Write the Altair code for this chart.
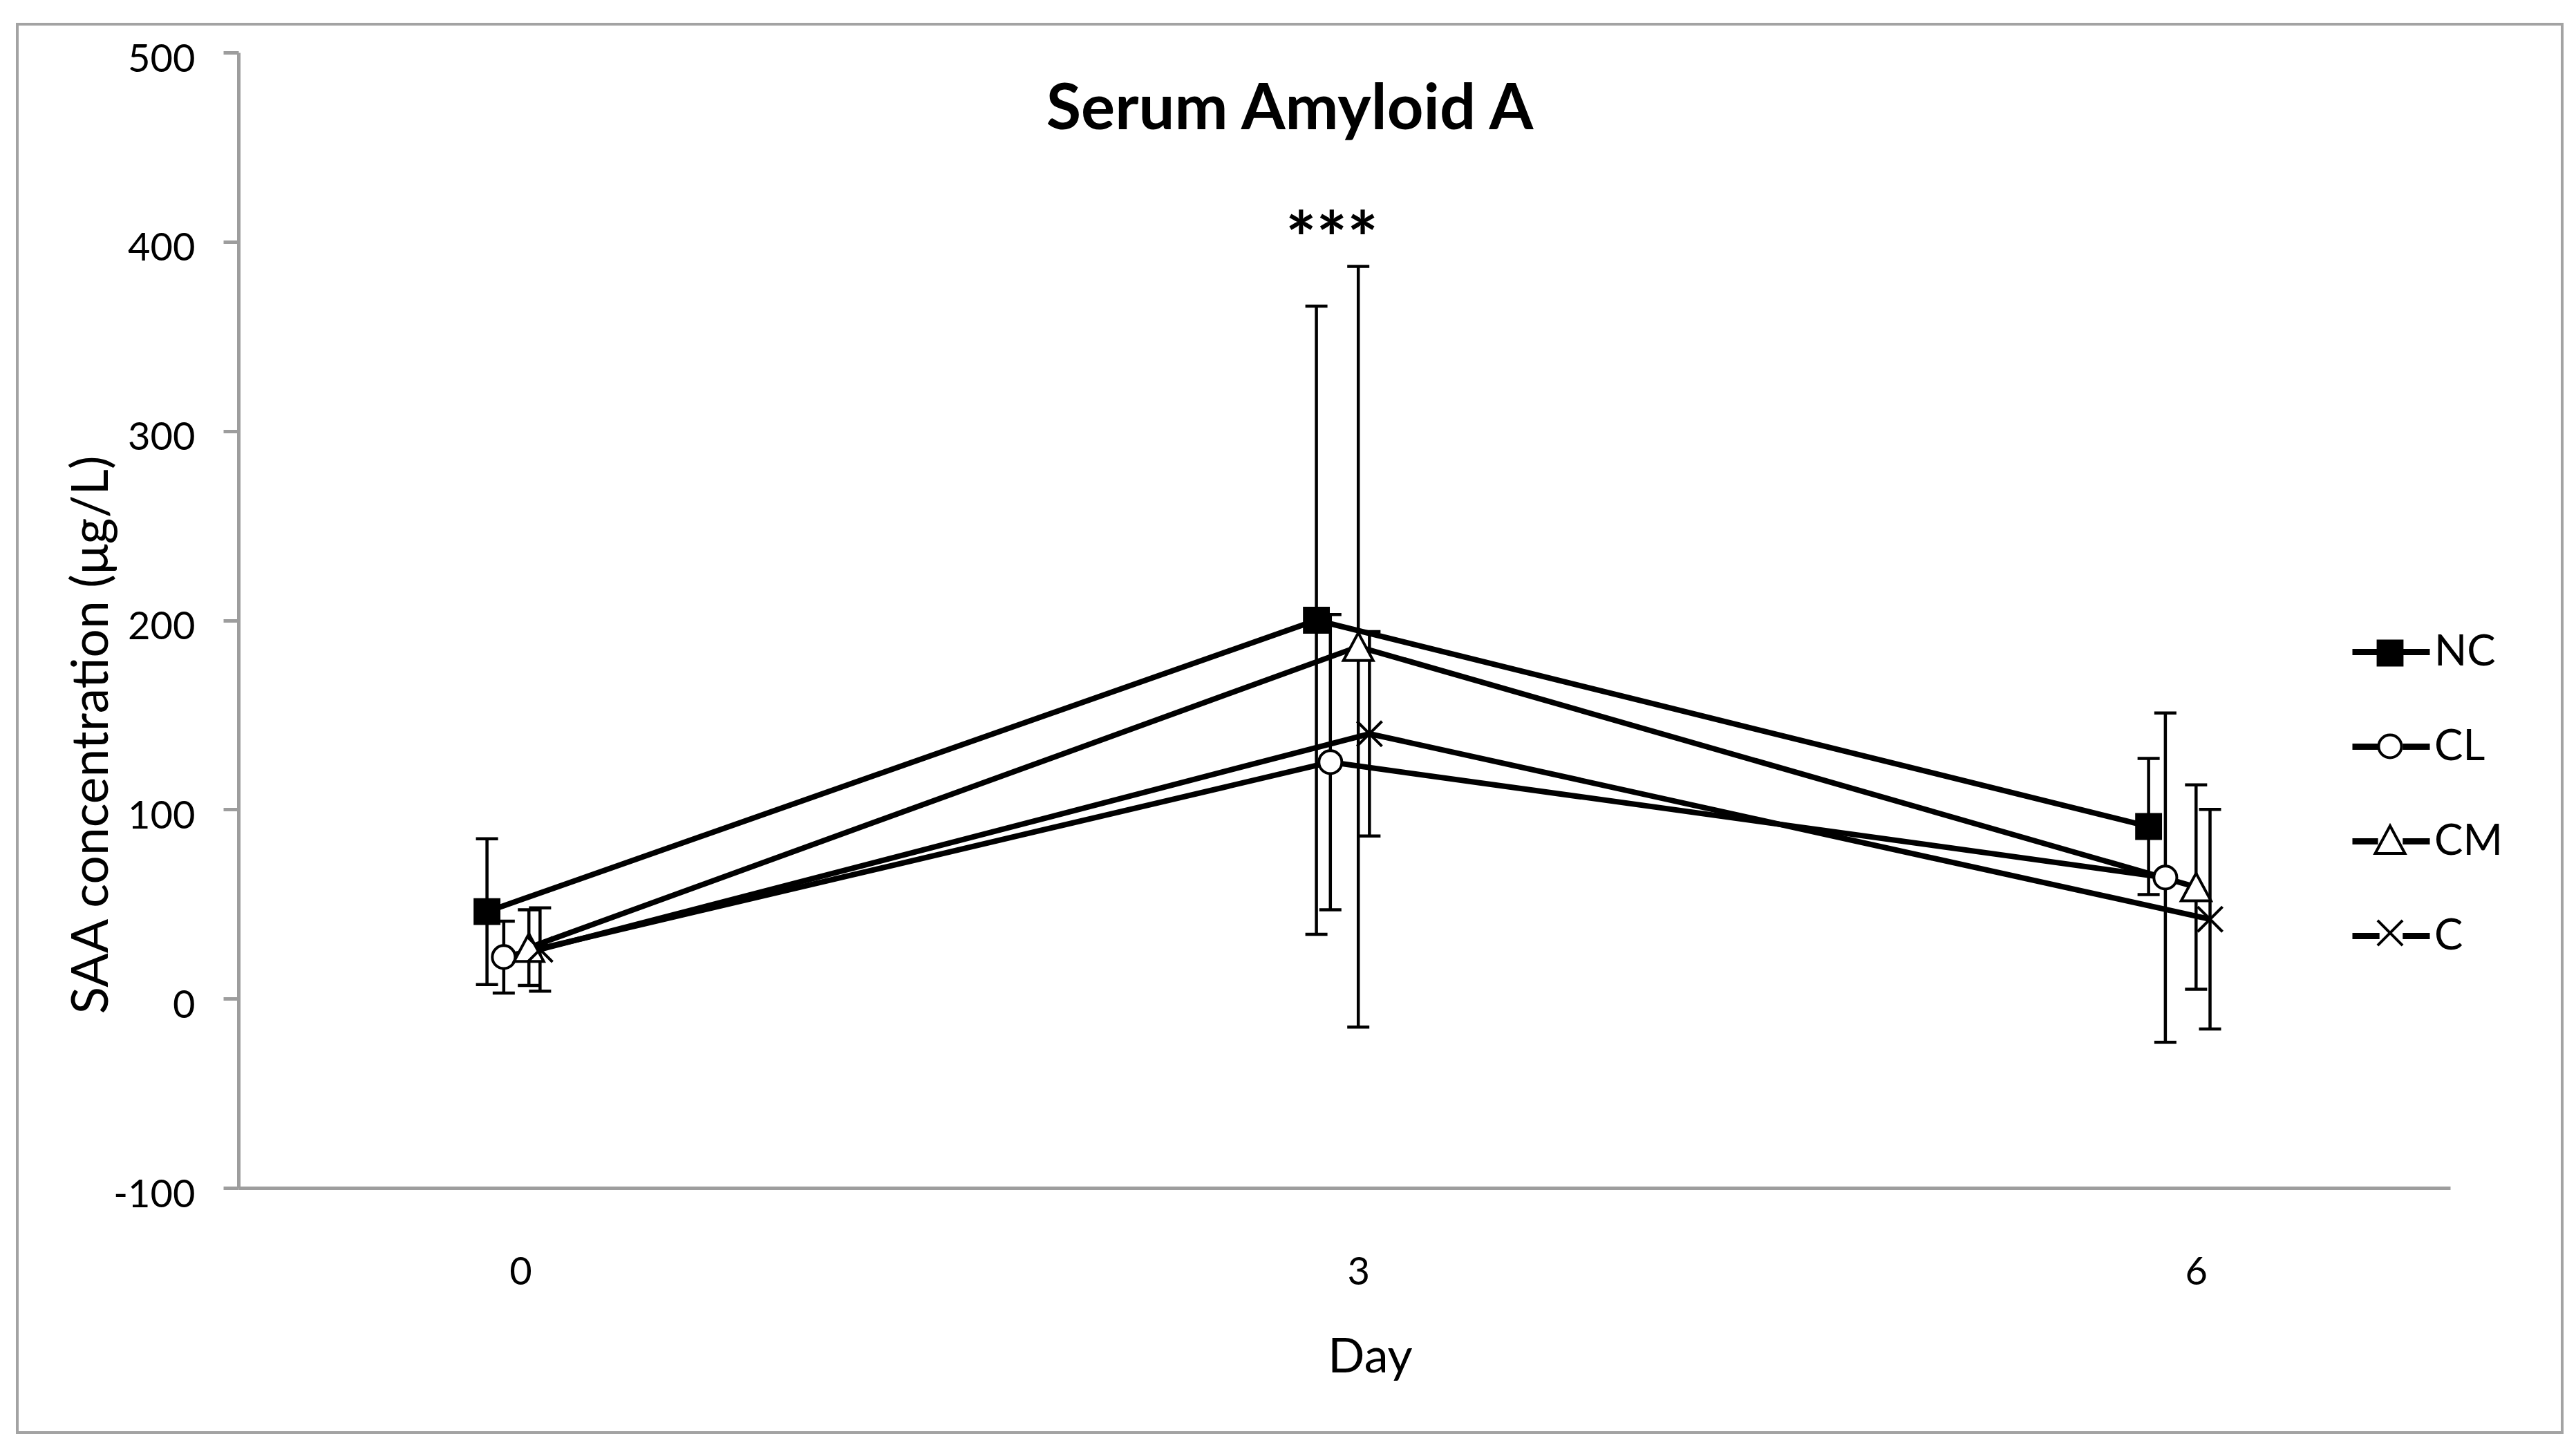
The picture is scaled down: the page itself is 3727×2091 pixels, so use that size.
import altair as alt
import pandas as pd

# ---- data ----
series = ["NC", "CL", "CM", "C"]
day_labels = [0, 3, 6]

# plotted x positions (points are slightly staggered around each day)
nc_x = [-0.12, 2.85, 5.83]
cl_x = [-0.06, 2.90, 5.89]
cm_x = [0.03, 3.00, 6.00]
c_x = [0.07, 3.04, 6.05]

# means (µg/L)
nc_mean = [46, 200, 91]
cl_mean = [22, 125, 64]
cm_mean = [27, 186, 59]
c_mean = [26, 140, 42]

# error (SD)
nc_err = [38.5, 166, 36]
cl_err = [19, 78, 87]
cm_err = [20, 201, 54]
c_err = [22, 54, 58]

# significance annotation
ann_x = [2.905]
ann_y = [388]
ann_text = ["***"]

rows = []
for name, xs, ms, es in [("NC", nc_x, nc_mean, nc_err), ("CL", cl_x, cl_mean, cl_err),
                         ("CM", cm_x, cm_mean, cm_err), ("C", c_x, c_mean, c_err)]:
    for d, x, m, e in zip(day_labels, xs, ms, es):
        rows.append({"series": name, "group": name, "grp2": name, "day": d, "x": x,
                     "mean": m, "lo": m - e, "hi": m + e})
df = pd.DataFrame(rows)
ann = pd.DataFrame({"x": ann_x, "y": ann_y, "text": ann_text})

FONT = "Lato"
GRAY = "#9d9d9d"

xscale = alt.Scale(domain=[-1.01, 6.91], nice=False, zero=False)
yscale = alt.Scale(domain=[-100, 500], nice=False, zero=False)

xaxis = alt.Axis(values=day_labels, format="d", ticks=False, tickSize=0, grid=False,
                 labelFont=FONT, labelFontSize=56, labelColor="black", labelPadding=139,
                 labelBaseline="alphabetic", labelFlush=False,
                 domainColor=GRAY, domainWidth=5,
                 title="Day", titleFont=FONT, titleFontSize=70, titleFontWeight="normal",
                 titleColor="black", titleX=1637, titleY=266, titleBaseline="alphabetic",
                 titleAlign="center")
yaxis = alt.Axis(values=list(range(-100, 501, 100)), grid=False,
                 labelExpr="datum.value < 0 ? '-' + abs(datum.value) : datum.label",
                 tickSize=22, tickWidth=5, tickColor=GRAY,
                 domainColor=GRAY, domainWidth=5,
                 labelFont=FONT, labelFontSize=56, labelColor="black", labelPadding=41,
                 labelBaseline="alphabetic", labelOffset=27, labelFlush=False,
                 title="SAA concentration (μg/L)", titleFont=FONT, titleFontSize=73,
                 titleFontWeight="normal", titleColor="black", titleAngle=270,
                 titleX=-190, titleY=987, titleBaseline="alphabetic", titleAlign="center")

X = alt.X("x:Q", scale=xscale, axis=xaxis)
Y = alt.Y("mean:Q", scale=yscale, axis=yaxis)

base = alt.Chart(df)

frame = alt.Chart(ann).mark_rect(fill="transparent", stroke="#a3a3a3", strokeWidth=4).encode(
    x=alt.value(-320), x2=alt.value(3362), y=alt.value(-41), y2=alt.value(1997))

LEG_Y = 838
# legend line with a gap where the marker sits
gap_line = "M-1,0L-0.3,0M0.3,0L1,0"
lines = base.mark_line(strokeWidth=8).encode(
    x=X, y=Y,
    color=alt.Color("series:N", sort=series,
                    scale=alt.Scale(range=["black", "black", "black", "black"]),
                    legend=alt.Legend(orient="none", legendX=3054, legendY=LEG_Y - 31, title=None,
                                      symbolType=gap_line, symbolSize=12544,
                                      symbolStrokeWidth=9, symbolStrokeColor="black",
                                      labelFont=FONT, labelFontSize=62, labelColor="black",
                                      labelOffset=2, rowPadding=45, zindex=1)),
    detail="series:N",
)

rules = base.mark_rule(strokeWidth=4.5, color="black").encode(
    x=alt.X("x:Q", scale=xscale), y=alt.Y("lo:Q", scale=yscale), y2="hi:Q")
caps_lo = base.mark_tick(orient="horizontal", size=32, thickness=4.5, color="black", opacity=1).encode(
    x=alt.X("x:Q", scale=xscale), y=alt.Y("lo:Q", scale=yscale))
caps_hi = base.mark_tick(orient="horizontal", size=32, thickness=4.5, color="black", opacity=1).encode(
    x=alt.X("x:Q", scale=xscale), y=alt.Y("hi:Q", scale=yscale))

# marker outlines (unit = half of sqrt(size))
sq_path = "M-0.81,-0.81L0.81,-0.81L0.81,0.81L-0.81,0.81Z"
circ_path = "M0.77,0A0.77,0.77,0,1,1,-0.77,0A0.77,0.77,0,1,1,0.77,0Z"
tri_path = "M0,-0.93L1,0.93L-1,0.93Z"
cross_path = "M-0.84,-0.84L0.84,0.84M-0.84,0.84L0.84,-0.84"

fill_legend = alt.Legend(orient="none", legendX=3082, legendY=LEG_Y, title=None,
                         symbolType=sq_path, symbolSize=1850, symbolStrokeWidth=0,
                         symbolStrokeColor="transparent",
                         labelFont=FONT, labelFontSize=62, labelExpr="''",
                         labelOffset=11, rowPadding=73, zindex=1)
shape_legend = alt.Legend(orient="none", legendX=3082, legendY=LEG_Y, title=None,
                          symbolSize=1850, symbolStrokeWidth=4, symbolStrokeColor="black",
                          symbolFillColor="transparent",
                          labelFont=FONT, labelFontSize=62, labelExpr="''",
                          labelOffset=11, rowPadding=73, zindex=3)
points = base.mark_point(opacity=1, strokeWidth=4, stroke="black", size=1850).encode(
    x=alt.X("x:Q", scale=xscale), y=alt.Y("mean:Q", scale=yscale),
    fill=alt.Fill("grp2:N", sort=series,
                  scale=alt.Scale(range=["black", "white", "white", "transparent"]),
                  legend=fill_legend),
    shape=alt.Shape("group:N", sort=series,
                    scale=alt.Scale(range=[sq_path, circ_path, tri_path, cross_path]),
                    legend=shape_legend),
)

stars = alt.Chart(ann).mark_text(font=FONT, fontSize=105, fontWeight="bold", color="black",
                                 baseline="alphabetic", align="center").encode(
    x=alt.X("x:Q", scale=xscale), y=alt.Y("y:Q", scale=yscale), text="text:N")

chart = alt.layer(frame, lines, rules, caps_lo, caps_hi, points, stars).properties(
    width=3200, height=1643,
    autosize="none",
    padding={"left": 337, "top": 68, "right": 170, "bottom": 362},
    background="white",
    title=alt.TitleParams("Serum Amyloid A", font=FONT, fontSize=92, fontWeight="bold",
                          color="black", anchor="middle", frame="group", dx=-79, dy=246,
                          offset=0, baseline="alphabetic"),
).configure_view(stroke=None)

chart.save("out.html", embed_options={"renderer": "svg", "actions": False})
